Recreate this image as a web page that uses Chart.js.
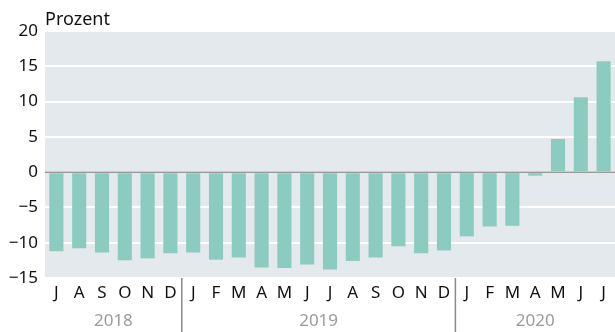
<!DOCTYPE html>
<html>
<head>
<meta charset="utf-8">
<script src="https://cdn.jsdelivr.net/npm/chart.js@4/dist/chart.umd.min.js"></script>
<style>
  html, body { margin: 0; padding: 0; background: #fff; }
  #wrap { width: 615px; height: 332px; position: relative; }
</style>
</head>
<body>
<div id="wrap"><canvas id="c" width="615" height="332"></canvas></div>
<script>
// Monthly change, July 2018 – July 2020
const months = ['J','A','S','O','N','D','J','F','M','A','M','J','J','A','S','O','N','D','J','F','M','A','M','J','J'];
const years = [
  { label: '2018', from: 0, to: 5 },
  { label: '2019', from: 6, to: 17 },
  { label: '2020', from: 18, to: 24 }
];
const values = [-11.2, -10.8, -11.4, -12.5, -12.2, -11.5, -11.4, -12.4, -12.1, -13.5, -13.6, -13.1,
                -13.8, -12.6, -12.1, -10.5, -11.5, -11.1, -9.1, -7.7, -7.6, -0.5, 4.7, 10.6, 15.7];
const yTicks = { min: -15, max: 20, step: 5 };
const unitLabel = 'Prozent';

const FONT = '"Noto Sans", "DejaVu Sans", sans-serif';
const PLOT_BG = '#e4e9ed';
const BAR = '#8ccbc0';

const decorations = {
  id: 'decorations',
  beforeDraw(chart) {
    const { ctx, chartArea: a } = chart;
    ctx.save();
    ctx.fillStyle = PLOT_BG;
    ctx.fillRect(a.left, a.top, a.right - a.left, a.bottom - a.top);
    ctx.restore();
  },
  afterDatasetsDraw(chart) {
    const { ctx, chartArea: a } = chart;
    const y = chart.scales.y.getPixelForValue(0);
    ctx.save();
    ctx.strokeStyle = '#9a9a9a';
    ctx.lineWidth = 1.5;
    ctx.beginPath();
    ctx.moveTo(a.left, y);
    ctx.lineTo(a.right, y);
    ctx.stroke();
    ctx.restore();
  },
  afterDraw(chart) {
    const { ctx, chartArea: a } = chart;
    const x = chart.scales.x;
    ctx.save();
    // unit label above the plot
    ctx.fillStyle = '#111';
    ctx.font = '18px ' + FONT;
    ctx.textAlign = 'left';
    ctx.textBaseline = 'alphabetic';
    ctx.fillText(unitLabel, a.left, 25);
    // year separators and labels
    const step = x.getPixelForValue(1) - x.getPixelForValue(0);
    ctx.strokeStyle = '#8a8a8a';
    ctx.lineWidth = 1.5;
    years.forEach((yr, i) => {
      if (i > 0) {
        const sx = x.getPixelForValue(yr.from) - step / 2;
        ctx.beginPath();
        ctx.moveTo(sx, a.bottom);
        ctx.lineTo(sx, chart.height);
        ctx.stroke();
      }
      const cx = (x.getPixelForValue(yr.from) + x.getPixelForValue(yr.to)) / 2;
      ctx.fillStyle = '#9b9b9b';
      ctx.font = '17px ' + FONT;
      ctx.textAlign = 'center';
      ctx.textBaseline = 'middle';
      ctx.fillText(yr.label, cx, 321);
    });
    ctx.restore();
  }
};

new Chart(document.getElementById('c'), {
  type: 'bar',
  data: {
    labels: months,
    datasets: [{
      data: values,
      backgroundColor: BAR,
      borderWidth: 0,
      categoryPercentage: 1,
      barPercentage: 0.62
    }]
  },
  options: {
    responsive: false,
    animation: false,
    layout: { padding: { top: 31, right: 0, bottom: 0, left: 0 } },
    plugins: { legend: { display: false }, tooltip: { enabled: false } },
    scales: {
      x: {
        grid: { display: false, drawTicks: false },
        border: { display: false },
        ticks: { color: '#111', font: { family: FONT, size: 17 }, padding: 5, maxRotation: 0, autoSkip: false },
        afterFit(scale) { scale.height = 54; }
      },
      y: {
        min: yTicks.min,
        max: yTicks.max,
        grid: { color: '#ffffff', lineWidth: 2, drawTicks: false },
        border: { display: false },
        ticks: {
          stepSize: yTicks.step,
          color: '#111',
          font: { family: FONT, size: 17 },
          padding: 7,
          callback: v => String(v).replace('-', '\u2212')
        },
        afterFit(scale) { scale.width = 45; }
      }
    }
  },
  plugins: [decorations]
});
</script>
</body>
</html>
